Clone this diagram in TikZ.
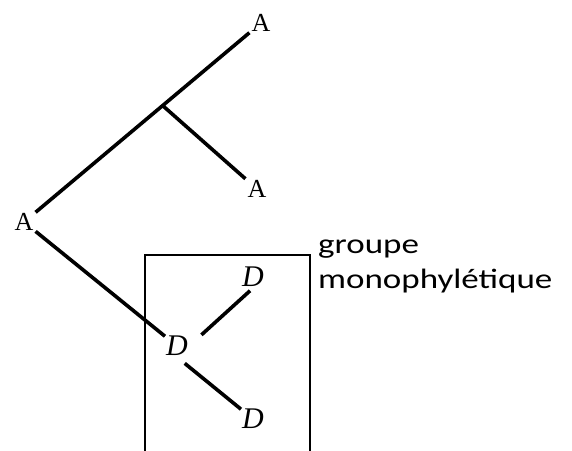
\documentclass[tikz,border=0pt]{standalone}
\usepackage{fontspec}
\usepackage{tikz}
\usetikzlibrary{calc}
\setmainfont{Liberation Serif}
\newfontfamily\grpfont{Carlito}
\newcommand{\wide}[1]{\scalebox{1.25}[1]{#1}}

\begin{document}
\begin{tikzpicture}[x=1pt,y=-1pt,
  branch/.style={line width=3.6pt},
  taxA/.style={font=\fontsize{26}{30}\selectfont, inner sep=2pt},
  taxD/.style={font=\fontsize{30}{34}\selectfont\itshape, inner sep=1pt}]
  \useasboundingbox (0,0) rectangle (572,450);
  % taxons
  \node[taxA] (root) at (24,222) {A};
  \node[taxA] (topA) at (261,23) {A};
  \node[taxA] (midA) at (257,189) {A};
  \node[taxD] (Dmid) at (177,346) {D};
  \node[taxD] (Dtop) at (253,277) {D};
  \node[taxD] (Dbot) at (253,419) {D};
  \coordinate (fork) at ($(root)!0.585!(topA)$);
  % branches
  \draw[branch] (root) -- (topA);
  \draw[branch] (fork) -- (midA);
  \draw[branch] (root) -- (Dmid);
  \draw[branch, shorten <=33pt, shorten >=4pt] (Dmid.south) -- (Dtop.south);
  \draw[branch, shorten <=10pt] (Dmid.south) -- (Dbot);
  % cadre du groupe
  \draw[line width=2pt] (145,460) -- (145,255) -- (310,255) -- (310,460);
  \node[font=\grpfont\fontsize{28}{35}\selectfont, align=left, anchor=base west,
    inner sep=0pt] (grp) at (318,288) {\wide{groupe}\\\wide{monophylétique}};
\end{tikzpicture}
\end{document}
